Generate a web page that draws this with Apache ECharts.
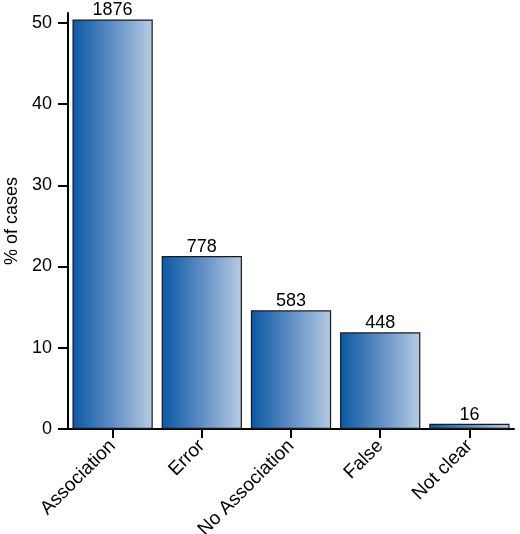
<!DOCTYPE html>
<html>
<head>
<meta charset="utf-8">
<script src="https://cdn.jsdelivr.net/npm/echarts@6/dist/echarts.min.js"></script>
<style>html,body{margin:0;padding:0;background:#fff}#c{width:520px;height:534px}</style>
</head>
<body>
<div id="c"></div>
<script>
const categories = ['Association', 'Error', 'No Association', 'False', 'Not clear'];
const percentValues = [50.4, 21.3, 14.6, 11.9, 0.65];
const countLabels = ['1876', '778', '583', '448', '16'];
const yTicks = [0, 10, 20, 30, 40, 50];

const chart = echarts.init(document.getElementById('c'));
const font = '"Liberation Sans", Arial, Helvetica, sans-serif';
const grad = new echarts.graphic.LinearGradient(0, 0, 1, 0, [
  {offset: 0, color: '#0a58a4'},
  {offset: 0.5, color: '#5f8ec4'},
  {offset: 1, color: '#b7cce4'}
]);
chart.setOption({
  animation: false,
  grid: {left: 68, right: 6, top: 13, bottom: 105, containLabel: false, outerBoundsMode: 'none'},
  xAxis: {
    type: 'category',
    data: categories,
    axisLine: {lineStyle: {color: '#000', width: 2}},
    axisTick: {show: true, alignWithLabel: true, length: 9, inside: false, lineStyle: {color: '#000', width: 2}},
    axisLabel: {rotate: 45, color: '#000', fontSize: 19, fontFamily: font, margin: 14, interval: 0}
  },
  yAxis: {
    type: 'value',
    min: 0,
    max: 51.2,
    interval: 10,
    name: '% of cases',
    nameLocation: 'middle',
    nameGap: 47,
    nameTextStyle: {color: '#000', fontSize: 18, fontFamily: font},
    splitLine: {show: false},
    axisLine: {show: true, lineStyle: {color: '#000', width: 2}},
    axisTick: {show: true, length: 10, customValues: yTicks, lineStyle: {color: '#000', width: 2}},
    axisLabel: {color: '#000', fontSize: 18, fontFamily: font, margin: 16, customValues: yTicks}
  },
  series: [{
    type: 'bar',
    data: percentValues,
    barCategoryGap: '10%',
    itemStyle: {color: grad, borderColor: '#1a1a1a', borderWidth: 1.2},
    label: {
      show: true, position: 'top', distance: 0, color: '#000', fontSize: 18, fontFamily: font,
      formatter: p => countLabels[p.dataIndex]
    }
  }]
});
</script>
</body>
</html>
